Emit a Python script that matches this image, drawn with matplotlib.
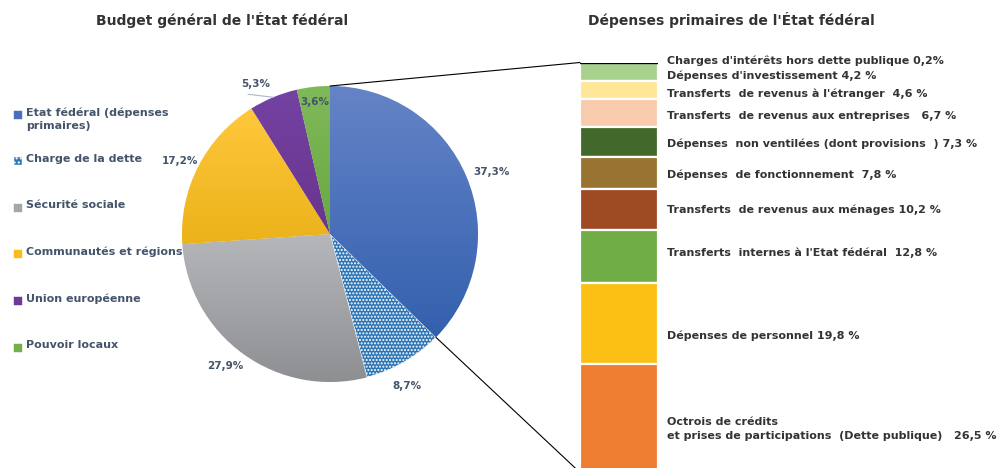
import matplotlib
matplotlib.use("Agg")
import matplotlib.pyplot as plt
import numpy as np
from matplotlib.colors import LinearSegmentedColormap
from matplotlib.patches import ConnectionPatch, Rectangle

# pie: budget général
pie_labels = ["Etat fédéral (dépenses\nprimaires)", "Charge de la dette", "Sécurité sociale",
              "Communautés et régions", "Union européenne", "Pouvoir locaux"]
pie_values = [37.3, 8.7, 27.9, 17.2, 5.3, 3.6]

# stacked bar: dépenses primaires (top to bottom)
bar_labels = [
    "Charges d'intérêts hors dette publique 0,2%",
    "Dépenses d'investissement 4,2 %",
    "Transferts  de revenus à l'étranger  4,6 %",
    "Transferts  de revenus aux entreprises   6,7 %",
    "Dépenses  non ventilées (dont provisions  ) 7,3 %",
    "Dépenses  de fonctionnement  7,8 %",
    "Transferts  de revenus aux ménages 10,2 %",
    "Transferts  internes à l'Etat fédéral  12,8 %",
    "Dépenses de personnel 19,8 %",
    "Octrois de crédits\net prises de participations  (Dette publique)   26,5 %",
]
bar_values = [0.2, 4.2, 4.6, 6.7, 7.3, 7.8, 10.2, 12.8, 19.8, 26.5]

pie_colors = ["#4a6fbd", "#2e75b6", "#a5a6a9", "#f7bd1c", "#6e3a96", "#72b04a"]
pie_grad = [("#6584c7", "#3360ae"), None, ("#b6b7ba", "#8e8f93"),
            ("#ffc83c", "#ebb21a"), ("#7442a2", "#69348e"), ("#80b95a", "#68a842")]
bar_colors = ["#000000", "#a9d18e", "#ffe699", "#f8cbad", "#43682b",
              "#997331", "#9e4a23", "#70ad47", "#fcbf14", "#ed7d31"]
label_dy = [-2, 4, 4, 3, 2, 2, 0, -4, 12, 11]   # px offsets of bar labels
pie_lab_dist = [1.17, 1.15, 1.14, 1.13, 1.13, 0.9]
pie_lab_dang = [-2, -3, -2.5, 1, 4, 0]

TXT = "#333333"
SLATE = "#44546a"

W, H = 1001, 468
fig = plt.figure(figsize=(W / 100, H / 100), dpi=100)

# overlay in pixel coords for titles and legend
ov = fig.add_axes([0, 0, 1, 1])
ov.set_xlim(0, W)
ov.set_ylim(H, 0)
ov.axis("off")

ov.text(222, 20, "Budget général de l'État fédéral", ha="center", va="center",
        fontsize=10, fontweight="bold", color=TXT)
ov.text(731, 20, "Dépenses primaires de l'État fédéral", ha="center", va="center",
        fontsize=10, fontweight="bold", color=TXT)

legend_y = [115, 161, 208, 254, 301, 348]
for i, (lab, y) in enumerate(zip(pie_labels, legend_y)):
    sq = Rectangle((14, y - 4), 8, 8, facecolor=pie_colors[i],
                   edgecolor="white" if i == 1 else pie_colors[i],
                   hatch="...." if i == 1 else None, linewidth=0.3)
    ov.add_patch(sq)
    ov.text(26, y - 7.5, lab, ha="left", va="top", fontsize=8, fontweight="bold",
            color=SLATE, linespacing=1.35)

# pie
cx, cy, r = 330, 234, 148
side = 2.4 * r
axp = fig.add_axes([(cx - side / 2) / W, (H - cy - side / 2) / H, side / W, side / H])
wedges, _ = axp.pie(pie_values, colors=pie_colors, startangle=90, counterclock=False,
                    radius=1, wedgeprops=dict(edgecolor="white", linewidth=0.6))
wedges[1].set_hatch(".....")

for w, g in zip(wedges, pie_grad):
    if g is None:
        continue
    ext = w.get_path().get_extents()
    cmap = LinearSegmentedColormap.from_list("g", [g[1], g[0]])
    im = axp.imshow(np.linspace(0, 1, 256).reshape(-1, 1), cmap=cmap, origin="lower",
                    extent=(ext.x0, ext.x1, ext.y0, ext.y1), aspect="auto", zorder=1.5)
    im.set_clip_path(w)

axp.set_xlim(-1.2, 1.2)
axp.set_ylim(-1.2, 1.2)
axp.set_aspect("equal")
axp.axis("off")

total = sum(pie_values)
start = 90.0
for v, d, da in zip(pie_values, pie_lab_dist, pie_lab_dang):
    span = 360 * v / total
    mid = np.deg2rad(start - span / 2 + da)
    axp.text(d * np.cos(mid), d * np.sin(mid), f"{v:.1f}%".replace(".", ","),
             ha="center", va="center", fontsize=7.5, fontweight="bold", color=SLATE, zorder=5)
    start -= span

# leader line for Union européenne
a_union = np.deg2rad(90 - 360 * (total - pie_values[-1] - pie_values[-2] / 2) / total)
ex, ey = np.cos(a_union), np.sin(a_union)
axp.plot([ex, ex - 0.17], [ey, ey + 0.02], color="#a9b8cc", lw=0.8, zorder=5)

# stacked bar
bar_top, bar_bot = 62.5, 472.5
bar_total = sum(bar_values)
axb = fig.add_axes([580 / W, (H - bar_bot) / H, 78 / W, (bar_bot - bar_top) / H])
bottoms = np.cumsum([0] + bar_values[::-1][:-1])[::-1]
for i, (v, b, c) in enumerate(zip(bar_values, bottoms, bar_colors)):
    if i == 0:
        axb.bar(0, v, bottom=b, width=1, color=c, edgecolor=c, linewidth=1.0, zorder=3)
    else:
        axb.bar(0, v, bottom=b, width=1, color=c, edgecolor="white", linewidth=1.6, zorder=2)
    axb.annotate(bar_labels[i], xy=(0.5, b + v / 2), xytext=(6.5, -label_dy[i] * 0.72),
                 textcoords="offset points", ha="left", va="center", fontsize=8,
                 fontweight="bold", color=TXT, linespacing=1.5, annotation_clip=False)
axb.set_xlim(-0.5, 0.5)
axb.set_ylim(0, bar_total)
axb.axis("off")

# connectors pie -> bar
a_end = np.deg2rad(90 - 360 * pie_values[0] / total)
for xa, xb in [((0, 1), (-0.5, bar_total)), ((np.cos(a_end), np.sin(a_end)), (-0.5, 0))]:
    con = ConnectionPatch(xyA=xa, coordsA=axp.transData, xyB=xb, coordsB=axb.transData,
                          color="black", lw=0.8)
    fig.add_artist(con)

fig.savefig("out.png", dpi=100)
